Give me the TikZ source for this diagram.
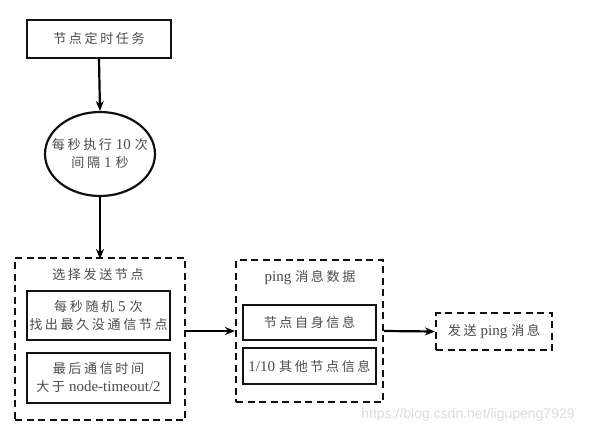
\documentclass[tikz,border=0pt]{standalone}
\usepackage{fontspec}
\setmainfont{Liberation Serif}
\newfontfamily\cj[LetterSpace=20,Scale=0.87]{Noto Sans CJK SC}
\newfontfamily\markfont{Liberation Sans}
\usetikzlibrary{arrows.meta,shapes.geometric}

\begin{document}
\begin{tikzpicture}[x=1pt, y=-1pt, line width=2.2pt,
    txt/.style={text=textColour, font=\fontsize{15}{18}\selectfont, align=center, inner sep=0pt},
    solidbox/.style={draw=borderColour, txt, minimum width=#1, minimum height=36pt},
    dashbox/.style={draw=borderColour, dash pattern=on 7pt off 4.5pt, minimum width=#1},
    flow/.style={-{Stealth[length=10pt, width=8pt]}, line width=2.2pt}]
    \definecolor{borderColour}{HTML}{111111}
    \definecolor{textColour}{HTML}{4A4A4A}
    \definecolor{markColour}{HTML}{DCDCDC}
    \def\gap{\hspace{4pt}}

    \useasboundingbox (0,0) rectangle (598,431);

    % Timer task and loop
    \node[solidbox=144pt, minimum height=38pt] (timer) at (99,39) {{\cj 节点定时任务}};
    \node[draw=borderColour, ellipse, minimum width=110pt, minimum height=84pt] (loop) at (100,154) {};
    \node[txt] (looptext) at (loop) {{\cj 每秒执行}\gap 10\gap{\cj 次}\\{\cj 间隔}\gap 1\gap{\cj 秒}};

    % Choose target node
    \node[dashbox=170pt, minimum height=162pt] (choose) at (100,339) {};
    \node[txt] (choosetitle) at (98,275) {{\cj 选择发送节点}};
    \node[solidbox=143pt, minimum height=49pt] (pickA) at (98.5,315.5) {{\cj 每秒随机}\gap 5\gap{\cj 次}\\{\cj 找出最久没通信节点}};
    \node[solidbox=143pt, minimum height=50pt] (pickB) at (98.5,378) {{\cj 最后通信时间}\\{\cj 大于}\gap node-timeout/2};

    % Ping message data
    \node[dashbox=147pt, minimum height=142pt] (ping) at (309.5,331) {};
    \node[txt] (pingtitle) at (310,278) {ping\gap{\cj 消息数据}};
    \node[solidbox=133pt, minimum height=35pt] (self) at (309.5,322.5) {{\cj 节点自身信息}};
    \node[solidbox=133pt, minimum height=36pt] (others) at (309.5,366) {1/10\gap{\cj 其他节点信息}};

    % Send
    \node[dashbox=116pt, minimum height=37pt, txt] (send) at (494,331.5) {{\cj 发送}\gap ping\gap{\cj 消息}};

    % Connectors
    \draw[flow] (timer.south) -- (loop.north);
    \draw[flow] (loop.south) -- ([yshift=-2pt]choose.north);
    \draw[flow] (choose.east |- ping.west) -- (ping.west);
    \draw[flow] (ping.east) -- (send.west);

    % Watermark
    \node[text=markColour, font=\markfont\fontsize{14}{16}\selectfont, inner sep=0pt] (mark) at (468,415) {https://blog.csdn.net/ligupeng7929};

\end{tikzpicture}
\end{document}
